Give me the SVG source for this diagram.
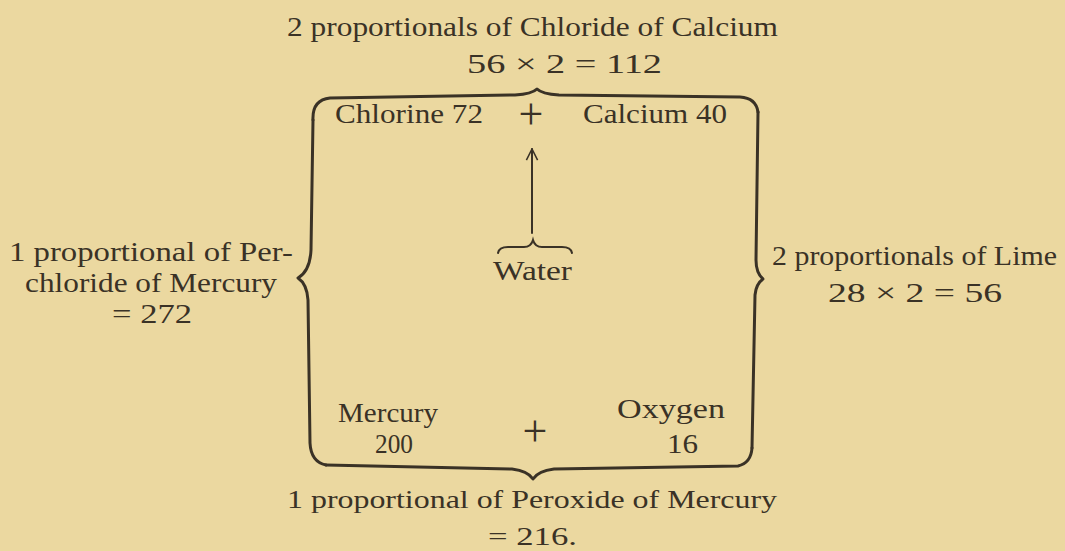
<svg xmlns="http://www.w3.org/2000/svg" width="1065" height="551" viewBox="0 0 1065 551">
<style>
  .t { font-family: "Liberation Serif", "Times New Roman", serif; font-size: 28px; fill: #3a3226; }
  .s { font-size: 26px; }
  .plus { font-family: "Liberation Serif", serif; font-size: 44px; fill: #3a3226; text-anchor: middle; }
  .br { fill: none; stroke: #3a3226; stroke-width: 3; stroke-linecap: round; stroke-linejoin: round; }
  .thin { fill: none; stroke: #3a3226; stroke-width: 2; stroke-linecap: round; }
</style>
<defs>
  <marker id="chev" viewBox="0 0 20 20" refX="18" refY="10" markerWidth="14" markerHeight="14" markerUnits="userSpaceOnUse" orient="auto">
    <path d="M 2 2 L 18 10 L 2 18" fill="none" stroke="#3a3226" stroke-width="2.2"/>
  </marker>
</defs>
<rect x="0" y="0" width="1065" height="551" fill="#ebd8a0"/>

<g id="title">
  <text class="t" x="287" y="36" textLength="491" lengthAdjust="spacingAndGlyphs">2 proportionals of Chloride of Calcium</text>
  <text class="t" x="467" y="73" textLength="195" lengthAdjust="spacingAndGlyphs">56 × 2 = 112</text>
</g>

<g id="chloride-of-calcium">
  <text class="t" x="335" y="123" textLength="148" lengthAdjust="spacingAndGlyphs">Chlorine 72</text>
  <text class="plus" x="531" y="129">+</text>
  <text class="t" x="583" y="123" textLength="144" lengthAdjust="spacingAndGlyphs">Calcium 40</text>
</g>

<g id="water">
  <text class="t" x="493" y="280" textLength="79" lengthAdjust="spacingAndGlyphs">Water</text>
</g>

<g id="perchloride-label">
  <text class="t" x="9" y="261" textLength="284" lengthAdjust="spacingAndGlyphs">1 proportional  of Per-</text>
  <text class="t" x="25" y="292" textLength="252" lengthAdjust="spacingAndGlyphs">chloride of Mercury</text>
  <text class="t" x="112" y="323" textLength="80" lengthAdjust="spacingAndGlyphs">= 272</text>
</g>

<g id="lime-label">
  <text class="t" x="772" y="265" textLength="285" lengthAdjust="spacingAndGlyphs">2 proportionals of Lime</text>
  <text class="t" x="828" y="302" textLength="174" lengthAdjust="spacingAndGlyphs">28 × 2 = 56</text>
</g>

<g id="peroxide-of-mercury">
  <text class="t" x="338" y="422" textLength="100" lengthAdjust="spacingAndGlyphs">Mercury</text>
  <text class="t" x="375" y="453" textLength="38" lengthAdjust="spacingAndGlyphs">200</text>
  <text class="plus" x="535" y="446">+</text>
  <text class="t" x="617" y="418" textLength="108" lengthAdjust="spacingAndGlyphs">Oxygen</text>
  <text class="t" x="667" y="453" textLength="31" lengthAdjust="spacingAndGlyphs">16</text>
</g>

<g id="peroxide-label">
  <text class="t s" x="287" y="508" textLength="490" lengthAdjust="spacingAndGlyphs">1 proportional of Peroxide of Mercury</text>
  <text class="t s" x="488" y="545" textLength="89" lengthAdjust="spacingAndGlyphs">= 216.</text>
</g>

<g id="connectors">
  <!-- top brace -->
  <path class="br" d="M 313 120 Q 312 100 330 98 L 515 95 Q 532 94 537 89 Q 542 94 559 95 L 740 97 Q 756 98 758 112"/>
  <!-- left brace -->
  <path class="br" d="M 313 120 L 311 250 Q 310 271 298 278 Q 307 284 308 300 L 310 443 Q 311 462 326 465"/>
  <!-- bottom brace -->
  <path class="br" d="M 326 465 L 512 469 Q 528 471 533 479 Q 538 471 554 469 L 738 466 Q 751 463 752 448"/>
  <!-- right brace -->
  <path class="br" d="M 752 448 L 755 295 Q 756 284 763 279 Q 756 273 756 260 L 758 112"/>
  <!-- arrow from water -->
  <line class="thin" x1="532" y1="233" x2="532" y2="149" marker-end="url(#chev)"/>
  <!-- small brace over Water -->
  <path class="thin" d="M 498 253 Q 499 247 508 247 L 524 247 Q 531 247 533 240 Q 535 247 542 247 L 562 247 Q 571 247 572 253"/>
</g>
</svg>
